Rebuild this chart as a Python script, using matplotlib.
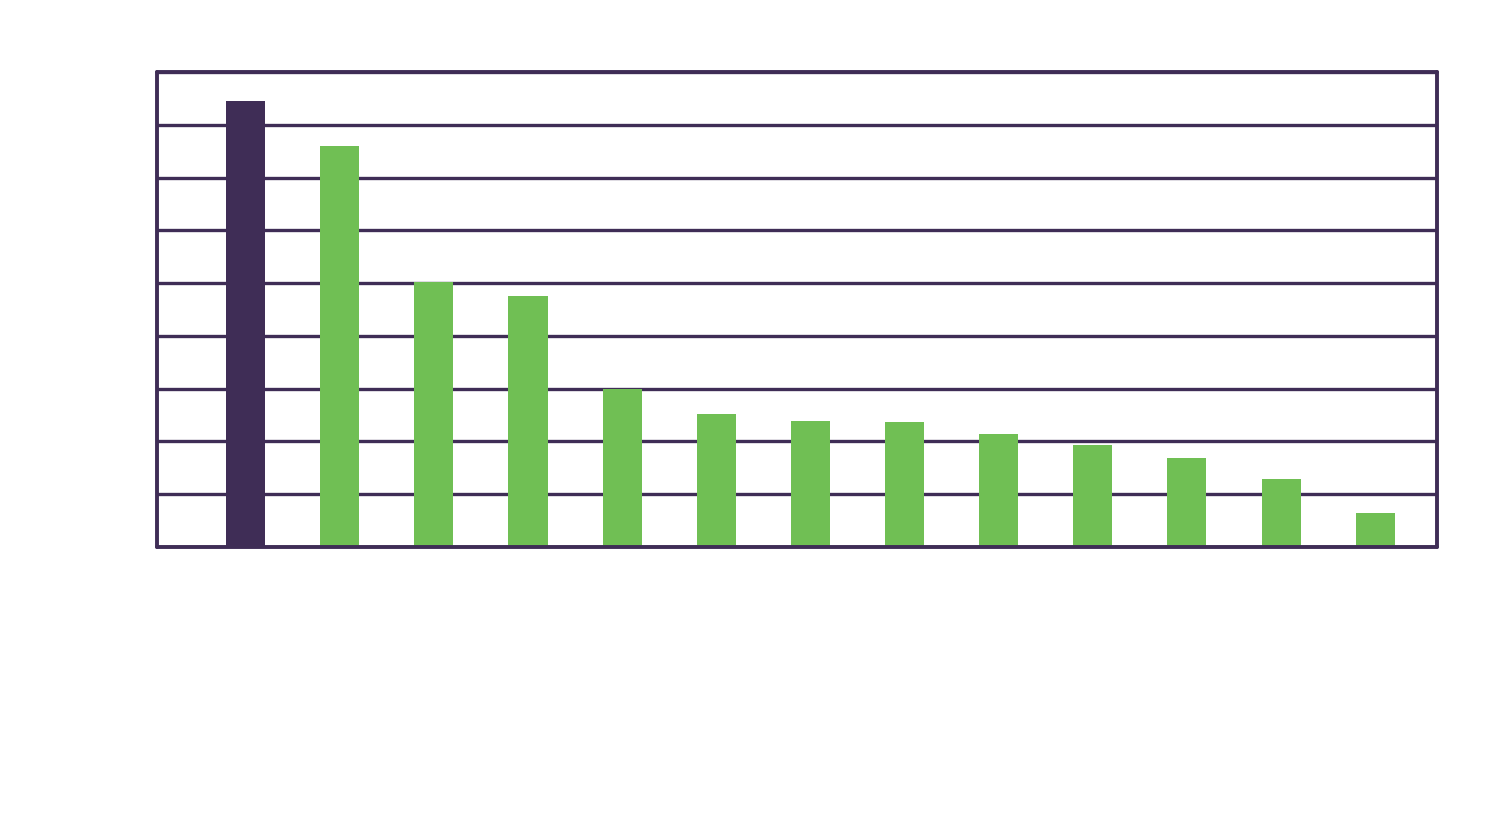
import matplotlib

matplotlib.use("Agg")
import matplotlib.pyplot as plt

# Category labels are drawn in white in the reference and cannot be read.
categories = [
    "Category A", "Category B", "Category C", "Category D", "Category E",
    "Category F", "Category G", "Category H", "Category I", "Category J",
    "Category K", "Category L", "Category M",
]
values = [16900, 15200, 10050, 9500, 6000, 5050, 4780, 4740, 4280, 3870, 3370, 2580, 1290]
highlight = [True] + [False] * 12
y_ticks = list(range(0, 18001, 2000))

PURPLE = "#3f2d56"
GREEN = "#70bf54"

fig = plt.figure(figsize=(15, 8.36), dpi=100)
axis = fig.add_axes([0.1047, 0.3457, 0.8533, 0.5682])

colors = [PURPLE if flag else GREEN for flag in highlight]
positions = range(len(categories))
axis.bar(positions, values, width=0.415, color=colors, zorder=3)

axis.set_xlim(-0.94, 12.656)
axis.set_ylim(0, 18000)
axis.set_yticks(y_ticks, [str(t) for t in y_ticks])
axis.set_xticks(list(positions), categories, rotation=45, ha="right",
                rotation_mode="anchor")
axis.tick_params(axis="both", length=0, colors="white", labelsize=15)
axis.tick_params(axis="y", pad=36)
axis.tick_params(axis="x", pad=30)
axis.yaxis.grid(True, color=PURPLE, linewidth=2.4, zorder=1)
axis.set_axisbelow(True)
for spine in axis.spines.values():
    spine.set_color(PURPLE)
    spine.set_linewidth(2.8)
    spine.set_capstyle("round")
    spine.set_zorder(4)

fig.savefig("out.png", dpi=100, facecolor="white")
plt.close(fig)
